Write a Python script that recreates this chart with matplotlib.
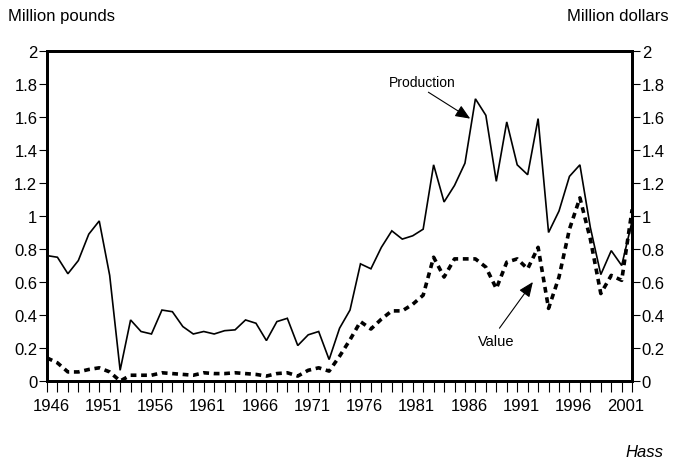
import numpy as np
from matplotlib import pyplot as plt
from matplotlib import transforms

plt.rcParams['font.family'] = ['Liberation Sans', 'DejaVu Sans']

years = list(range(1946, 2003))
production = [0.76, 0.75, 0.65, 0.73, 0.89, 0.97, 0.64, 0.065, 0.37, 0.30,
              0.285, 0.43, 0.42, 0.33, 0.285, 0.30, 0.285, 0.305, 0.31, 0.37,
              0.35, 0.245, 0.36, 0.38, 0.215, 0.28, 0.30, 0.13, 0.32, 0.43,
              0.71, 0.68, 0.81, 0.91, 0.86, 0.88, 0.92, 1.31, 1.085, 1.185,
              1.32, 1.71, 1.61, 1.21, 1.57, 1.31, 1.25, 1.59, 0.90, 1.03,
              1.24, 1.31, 0.93, 0.645, 0.79, 0.70, 0.97]
value = [0.14, 0.11, 0.055, 0.055, 0.07, 0.08, 0.055, 0.0, 0.035, 0.035,
         0.035, 0.05, 0.045, 0.04, 0.035, 0.05, 0.045, 0.045, 0.05, 0.045,
         0.04, 0.03, 0.045, 0.05, 0.03, 0.065, 0.08, 0.06, 0.15, 0.25,
         0.36, 0.315, 0.375, 0.425, 0.425, 0.465, 0.52, 0.75, 0.63, 0.74,
         0.74, 0.74, 0.69, 0.56, 0.72, 0.74, 0.68, 0.81, 0.44, 0.63,
         0.92, 1.11, 0.86, 0.53, 0.64, 0.61, 1.04]
label_years = list(range(1946, 2002, 5))
y_ticks = [0, 0.2, 0.4, 0.6, 0.8, 1, 1.2, 1.4, 1.6, 1.8, 2]
y_labels = ['0', '0.2', '0.4', '0.6', '0.8', '1', '1.2', '1.4', '1.6', '1.8', '2']

fig = plt.figure(figsize=(6.82, 4.64), dpi=100)
ax = fig.add_axes([0.0689, 0.1767, 0.858, 0.7113])
ax2 = ax.twinx()

ax.plot(years, production, color='black', lw=1.2, solid_joinstyle='miter')
ax2.plot(years, value, color='black', lw=2.6, linestyle=(0, (1.6, 1.3)))

for a in (ax, ax2):
    a.set_xlim(1946, 2002)
    a.set_ylim(0, 2)
    a.set_yticks(y_ticks)
    for s in a.spines.values():
        s.set_linewidth(2)
ax.set_yticklabels(y_labels, fontsize=12)
ax2.set_yticklabels(y_labels, fontsize=12)
ax.tick_params(axis='y', direction='out', length=6, width=0.8, pad=1)
ax2.tick_params(axis='y', direction='out', length=6, width=0.8, pad=1)

ax.set_xticks(years, minor=True)
ax.set_xticks(label_years)
ax.set_xticklabels([str(y) for y in label_years], fontsize=12)
ax.tick_params(axis='x', which='both', direction='out', length=8, width=0.8, pad=4)
shift = transforms.ScaledTranslation(4 / 100, 0, fig.dpi_scale_trans)
for lbl in ax.get_xticklabels():
    lbl.set_transform(lbl.get_transform() + shift)

fig.text(0.012, 0.965, 'Million pounds', fontsize=12, ha='left', va='center')
fig.text(0.98, 0.965, 'Million dollars', fontsize=12, ha='right', va='center')
fig.text(0.973, 0.024, 'Hass', fontsize=12, ha='right', va='center', style='italic')

arrow = dict(arrowstyle='-|>,head_length=0.9,head_width=0.38',
             color='black', lw=0.8, shrinkA=0, shrinkB=0)
ax.text(1981.95, 1.81, 'Production', fontsize=10, ha='center', va='center')
ax.annotate('', xy=(1986.5, 1.59), xytext=(1982.5, 1.75), arrowprops=arrow)
ax.text(1989.0, 0.24, 'Value', fontsize=10.5, ha='center', va='center')
ax.annotate('', xy=(1992.5, 0.60), xytext=(1989.3, 0.32), arrowprops=arrow)

fig.savefig('out.png', dpi=100)
